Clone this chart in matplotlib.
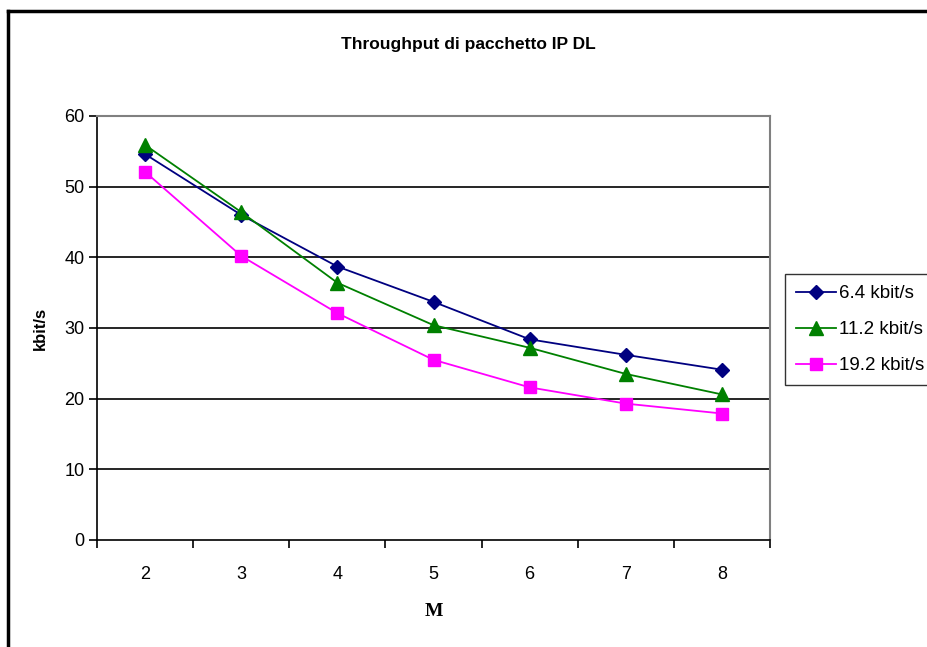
import matplotlib.pyplot as plt
from matplotlib.lines import Line2D

plt.rcParams['font.family'] = ['Liberation Sans', 'DejaVu Sans']

# categories on the x axis (M)
m_values = ['2', '3', '4', '5', '6', '7', '8']

# throughput per bit rate
thr_6_4 = [54.6, 46.0, 38.7, 33.7, 28.4, 26.2, 24.1]
thr_11_2 = [55.9, 46.4, 36.4, 30.4, 27.2, 23.5, 20.6]
thr_19_2 = [52.1, 40.2, 32.1, 25.5, 21.6, 19.3, 17.9]

series_names = ['6.4 kbit/s', '11.2 kbit/s', '19.2 kbit/s']
y_ticks = [0, 10, 20, 30, 40, 50, 60]

W, H = 927, 647
fig = plt.figure(figsize=(W / 100, H / 100), dpi=100)
fig.patch.set_facecolor('white')

# plot area in pixels: left 97, right 770, top 116, bottom 540
ax = fig.add_axes([97 / W, 1 - 540 / H, (770 - 97) / W, (540 - 116) / H])

x = list(range(len(m_values)))
ax.plot(x, thr_6_4, color='#000080', marker='D', markersize=7.5, lw=1.3,
        label=series_names[0], zorder=3)
ax.plot(x, thr_11_2, color='#008000', marker='^', markersize=9.5, lw=1.3,
        label=series_names[1], zorder=3)
ax.plot(x, thr_19_2, color='#ff00ff', marker='s', markersize=8.5, lw=1.3,
        label=series_names[2], zorder=3)

ax.set_xlim(-0.5, len(m_values) - 0.5)
ax.set_ylim(0, 60)
ax.set_yticks(y_ticks)
ax.set_yticklabels([str(v) for v in y_ticks], fontsize=13)

# category labels centred, ticks between categories
ax.set_xticks(x)
ax.set_xticklabels(m_values, fontsize=13)
ax.tick_params(axis='x', length=0, pad=19)
ax.set_xticks([i - 0.5 for i in range(len(m_values) + 1)], minor=True)
ax.tick_params(axis='x', which='minor', direction='out', length=6, width=1.2, color='black')
ax.tick_params(axis='y', direction='out', length=6, width=1.2, color='black', pad=3)

for v in y_ticks[1:-1]:
    ax.axhline(v, color='black', lw=1.2, zorder=1)

ax.spines['left'].set_color('black')
ax.spines['left'].set_linewidth(1.2)
ax.spines['bottom'].set_color('black')
ax.spines['bottom'].set_linewidth(1.2)
ax.spines['top'].set_color('#808080')
ax.spines['top'].set_linewidth(1.5)
ax.spines['right'].set_color('#808080')
ax.spines['right'].set_linewidth(1.5)

ax.set_ylabel('kbit/s', fontsize=12, fontweight='bold', labelpad=12)
ax.set_xlabel('M', fontsize=14, fontweight='heavy', family='Liberation Serif', labelpad=14)

fig.text(468 / W, 1 - 44 / H, 'Throughput di pacchetto IP DL', ha='center', va='center',
         fontsize=12.5, fontweight='bold')

leg = ax.legend(loc='upper left', bbox_to_anchor=(785 / W, 1 - 274 / H),
                bbox_transform=fig.transFigure, fontsize=13.5, frameon=True,
                fancybox=False, edgecolor='black', handlelength=2.1,
                handletextpad=0.2, borderpad=0.6, labelspacing=1.0, borderaxespad=0)
leg.get_frame().set_linewidth(1.0)

# outer chart frame (cut off at right and bottom)
fig.add_artist(Line2D([8 / W, 1], [1 - 11 / H, 1 - 11 / H], color='black', lw=2.5,
                      transform=fig.transFigure))
fig.add_artist(Line2D([8 / W, 8 / W], [0, 1 - 11 / H], color='black', lw=2.5,
                      transform=fig.transFigure))

fig.savefig('out.png', dpi=100)
